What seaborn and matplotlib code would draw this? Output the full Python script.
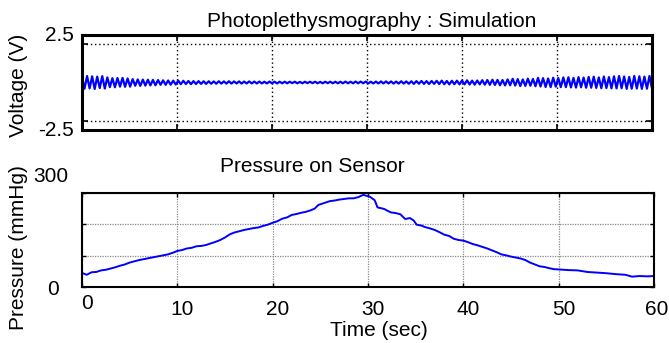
import numpy as np
import matplotlib
matplotlib.use("Agg")
import matplotlib.pyplot as plt
import seaborn as sns
from matplotlib.transforms import offset_copy

# ---------------- data ----------------
# PPG simulation: alternating peak / trough voltages
ppg_volts = [
    0.36, -0.40, 0.42, -0.38, 0.40, -0.42, 0.38, -0.36, 0.41, -0.39,
    0.33, -0.30, 0.28, -0.31, 0.29, -0.27, 0.30, -0.28, 0.26, -0.27,
    0.22, -0.21, 0.20, -0.22, 0.19, -0.20, 0.18, -0.19, 0.17, -0.18,
    0.16, -0.15, 0.14, -0.15, 0.13, -0.14, 0.12, -0.13, 0.12, -0.11,
    0.11, -0.10, 0.10, -0.11, 0.09, -0.10, 0.09, -0.09, 0.08, -0.09,
    0.08, -0.08, 0.07, -0.08, 0.08, -0.07, 0.07, -0.07, 0.08, -0.07,
    0.07, -0.06, 0.07, -0.07, 0.06, -0.06, 0.07, -0.06, 0.06, -0.06,
    0.06, -0.06, 0.05, -0.06, 0.06, -0.05, 0.05, -0.06, 0.05, -0.05,
    0.05, -0.05, 0.05, -0.04, 0.05, -0.05, 0.04, -0.05, 0.05, -0.04,
    0.05, -0.04, 0.05, -0.05, 0.04, -0.05, 0.05, -0.04, 0.05, -0.05,
    0.05, -0.05, 0.05, -0.05, 0.06, -0.05, 0.05, -0.05, 0.06, -0.05,
    0.06, -0.05, 0.06, -0.06, 0.05, -0.06, 0.06, -0.06, 0.07, -0.06,
    0.07, -0.06, 0.07, -0.07, 0.06, -0.07, 0.08, -0.07, 0.07, -0.08,
    0.08, -0.09, 0.09, -0.08, 0.10, -0.09, 0.09, -0.10, 0.10, -0.09,
    0.11, -0.10, 0.12, -0.11, 0.10, -0.12, 0.11, -0.11, 0.12, -0.12,
    0.13, -0.12, 0.14, -0.13, 0.12, -0.14, 0.13, -0.12, 0.15, -0.14,
    0.16, -0.15, 0.18, -0.16, 0.17, -0.18, 0.16, -0.19, 0.20, -0.18,
    0.24, -0.20, 0.22, -0.23, 0.20, -0.22, 0.25, -0.21, 0.23, -0.24,
    0.30, -0.26, 0.28, -0.29, 0.26, -0.30, 0.31, -0.27, 0.29, -0.30,
    0.33, -0.30, 0.34, -0.32, 0.30, -0.33, 0.35, -0.31, 0.32, -0.34,
    0.36, -0.34, 0.38, -0.35, 0.33, -0.37, 0.39, -0.36, 0.35, -0.38,
    0.40, -0.38, 0.42, -0.37, 0.39, -0.41, 0.36, -0.40, 0.42, -0.39,
    0.40, -0.41, 0.38, -0.40, 0.42, -0.39,
]
ppg_time = np.linspace(0, 60, len(ppg_volts))

# Pressure on sensor (mmHg): (time, value) pairs
press_time = [
    0, 0.5, 1, 1.5, 2, 2.5, 3, 3.5, 4, 4.5, 5, 5.5, 6, 6.5, 7, 7.5, 8,
    8.5, 9, 9.5, 10, 10.5, 11, 11.5, 12, 12.5, 13, 13.5, 14, 14.5, 15,
    15.5, 16, 16.5, 17, 17.5, 18, 18.5, 19, 19.5, 20, 20.5, 21, 21.5,
    22, 22.5, 23, 23.5, 24, 24.4, 24.8, 25.4, 26, 26.5, 27, 27.5, 28,
    28.5, 29, 29.5, 30.2, 30.7, 31.0, 31.3, 31.7, 32.0, 32.4, 32.9,
    33.4, 33.9, 34.4, 34.8, 35.1, 35.6, 36, 36.5, 37, 37.5, 38, 38.5,
    39, 39.5, 40, 40.5, 41, 41.5, 42, 42.5, 43, 43.5, 44, 44.5, 45,
    45.5, 46, 46.5, 47, 47.5, 48, 48.5, 49, 49.5, 50, 51, 52, 53, 54,
    55, 56, 57, 57.7, 58.5, 59.3, 60,
]
press_mmhg = [
    45, 39, 47, 48, 53, 55, 59, 63, 68, 72, 78, 82, 86, 89, 92, 95, 98,
    101, 104, 109, 115, 118, 123, 125, 130, 131, 134, 139, 144, 150, 158,
    168, 174, 178, 182, 185, 188, 190, 195, 199, 205, 210, 218, 222,
    230, 233, 237, 240, 245, 250, 262, 268, 274, 276, 279, 281, 283,
    283, 287, 294, 288, 277, 254, 252, 249, 244, 238, 236,
    232, 217, 220, 212, 199, 196, 191, 187, 182, 175, 167, 163,
    154, 150, 148, 143, 137, 133, 128, 123, 117, 111, 104, 101, 97,
    94, 91, 86, 78, 72, 66, 64, 60, 57, 56, 54, 53, 48, 46,
    44, 41, 39, 33, 35, 34, 35,
]

x_ticks = [0, 10, 20, 30, 40, 50, 60]
volt_ticks = [-2.5, 2.5]
volt_tick_labels = ["-2.5", "2.5"]
press_ticks = [0, 100, 200, 300]

title_top = "Photoplethysmography : Simulation"
title_bottom = "Pressure on Sensor"

# ---------------- style ----------------
sns.set_style("white")
plt.rcParams["font.family"] = ["Liberation Sans", "DejaVu Sans"]
plt.rcParams["text.color"] = "black"
FS = 15
BLUE = "#0000ff"

fig = plt.figure(figsize=(6.69, 3.43), dpi=100)
W, H = 669.0, 343.0

def fig_rect(x0, y0, x1, y1):
    return [x0 / W, 1 - y1 / H, (x1 - x0) / W, (y1 - y0) / H]

ax1 = fig.add_axes(fig_rect(82, 35, 652, 130))
ax2 = fig.add_axes(fig_rect(82, 193, 654, 287))

# top panel
sns.lineplot(x=ppg_time, y=ppg_volts, ax=ax1, color=BLUE, linewidth=1.6)
ax1.set_xlim(0, 60)
ax1.set_ylim(-3.08, 3.08)
ax1.set_xticks(x_ticks)
ax1.set_yticks(volt_ticks)
ax1.grid(True, color="black", linestyle=(0, (1, 2)), linewidth=1.0)
ax1.tick_params(direction="in", length=4, width=1.2, top=True, right=True,
                bottom=True, left=True, labelbottom=False, labelleft=False,
                color="black")
for s in ax1.spines.values():
    s.set_linewidth(2.2)
    s.set_color("black")

# bottom panel
sns.lineplot(x=press_time, y=press_mmhg, ax=ax2, color=BLUE, linewidth=1.4)
ax2.set_xlim(0, 60)
ax2.set_ylim(0, 300)
ax2.set_xticks(x_ticks)
ax2.set_yticks(press_ticks)
ax2.grid(True, color="#888888", linestyle=(0, (1, 1)), linewidth=0.9)
ax2.tick_params(direction="in", length=3, width=1.0, top=True, right=True,
                bottom=True, left=True, labelbottom=False, labelleft=False,
                color="black")
for s in ax2.spines.values():
    s.set_linewidth(1.5)
    s.set_color("black")

def ylab(ax, val, text, dx, dy):
    tr = offset_copy(ax.get_yaxis_transform(), fig=fig, x=dx, y=dy, units="dots")
    ax.text(0, val, text, transform=tr, ha="right", va="baseline", fontsize=FS,
            color="black")

def xlab(ax, val, text, dx, dy):
    tr = offset_copy(ax.get_xaxis_transform(), fig=fig, x=dx, y=dy, units="dots")
    ax.text(val, 0, text, transform=tr, ha="center", va="baseline", fontsize=FS,
            color="black")

# y tick labels (placed as in the reference)
ylab(ax1, 2.5, volt_tick_labels[1], -8.5, 3.3)
ylab(ax1, -2.5, volt_tick_labels[0], -8, -15)
ylab(ax2, 300, str(press_ticks[-1]), -14, 10.6)
ylab(ax2, 0, str(press_ticks[0]), -23, -8)

# x tick labels
for v in x_ticks:
    if v == 0:
        xlab(ax2, v, str(v), 5.5, -22)
    elif v == 60:
        xlab(ax2, v, str(v), 3, -27.7)
    else:
        xlab(ax2, v, str(v), 5, -27.7)

# titles and axis labels
kw = dict(fontsize=FS, color="black")
fig.text(372 / W, 1 - 26.7 / H, title_top, ha="center", va="baseline", **kw)
fig.text(312.5 / W, 1 - 171.7 / H, title_bottom, ha="center", va="baseline", **kw)
fig.text(379 / W, 1 - 335.5 / H, "Time (sec)", ha="center", va="baseline", **kw)
fig.text(19 / W, 1 - 85 / H, "Voltage (V)", rotation=90, ha="center", va="center", **kw)
fig.text(19 / W, 1 - 248 / H, "Pressure (mmHg)", rotation=90, ha="center", va="center", **kw)

fig.savefig("out.png", dpi=100)
